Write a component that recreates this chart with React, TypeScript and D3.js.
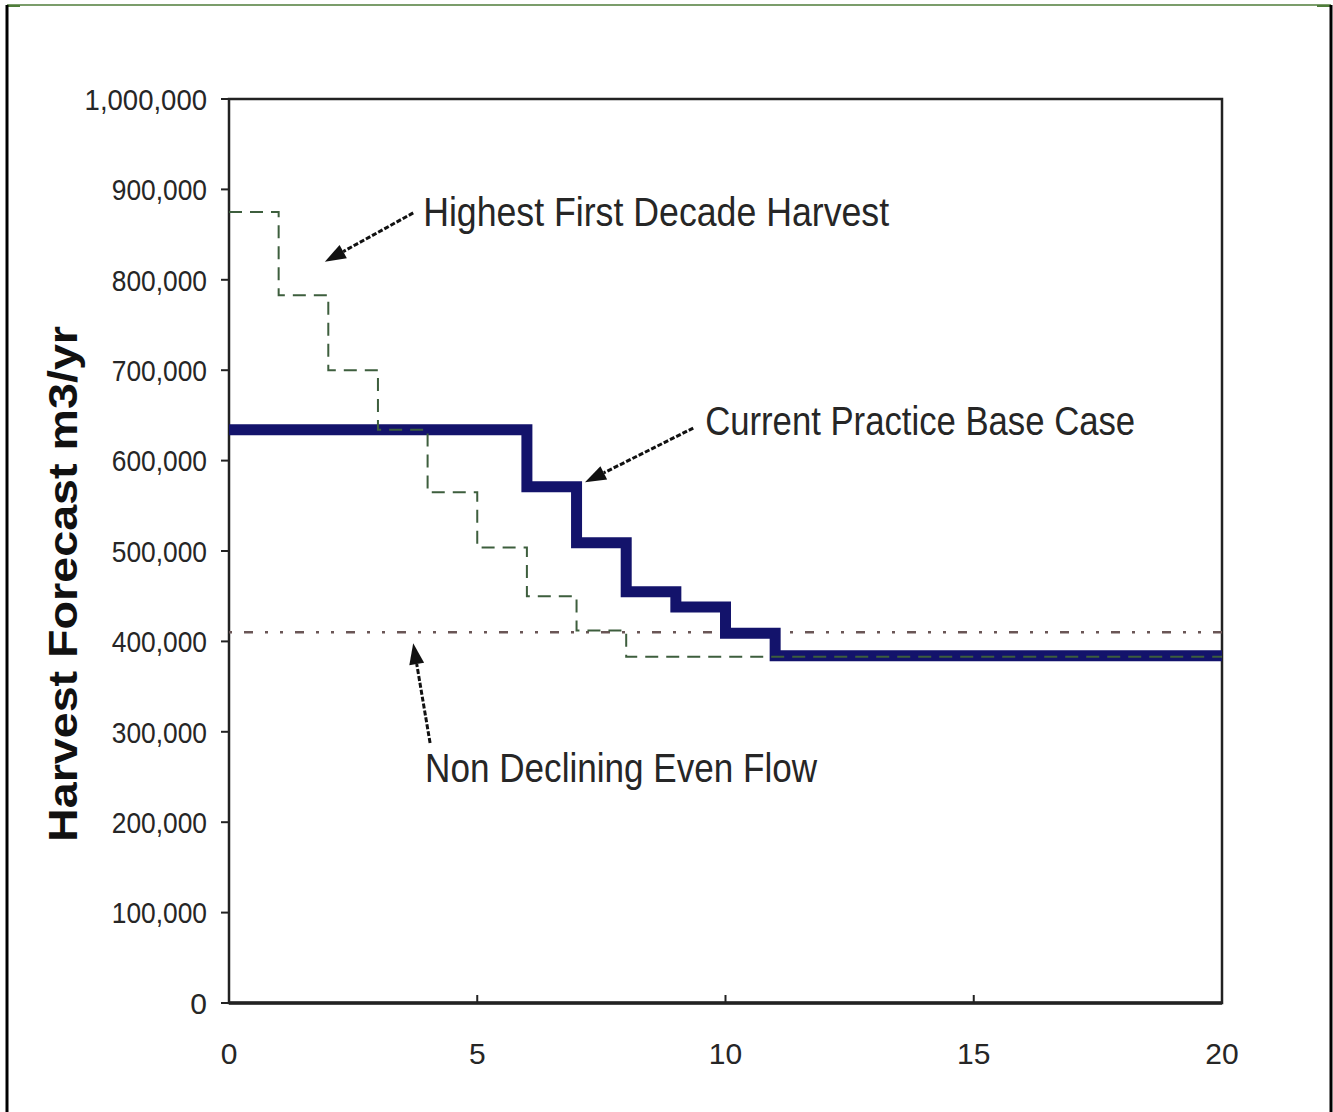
import React from "react";
import * as d3 from "d3";

// ---- data ----
const xTicks = [0, 5, 10, 15, 20];
const yTicks = [0, 100000, 200000, 300000, 400000, 500000, 600000, 700000, 800000, 900000, 1000000];

const highestX = [0, 1, 2, 3, 4, 5, 6, 7, 8, 20];
const highestY = [875000, 783000, 700000, 634000, 565000, 504000, 450000, 412000, 383000, 383000];

const baseX = [0, 6, 7, 8, 9, 10, 11, 20];
const baseY = [634000, 571000, 509000, 455000, 438000, 409000, 384000, 384000];

const evenFlowValue = 410000;

const annotationLabels = ["Highest First Decade Harvest", "Current Practice Base Case", "Non Declining Even Flow"];
// text anchor position in data units [x, y]
const annotationText: [number, number][] = [[3.91, 860000], [9.59, 628000], [3.95, 244500]];
// arrow tail / head in data units
const arrowTail: [number, number][] = [[3.71, 874000], [9.35, 636000], [4.05, 287600]];
const arrowHead: [number, number][] = [[1.93, 820000], [7.17, 576000], [3.71, 398000]];

const W = 1333;
const H = 1112;

export default function App() {
  const x = d3.scaleLinear().domain([0, 20]).range([229, 1222]);
  const y = d3.scaleLinear().domain([0, 1000000]).range([1003, 99]);

  const stepLine = d3
    .line<[number, number]>()
    .x((d) => x(d[0]))
    .y((d) => y(d[1]))
    .curve(d3.curveStepAfter);

  const highestPts = highestX.map((v, i) => [v, highestY[i]] as [number, number]);
  const basePts = baseX.map((v, i) => [v, baseY[i]] as [number, number]);

  const fmt = d3.format(",");
  const font = "'Liberation Sans', Arial, sans-serif";
  const textWidths = [466, 430, 392];

  const arrowPoly = (t: [number, number], h: [number, number]) => {
    const tx = x(t[0]), ty = y(t[1]);
    const hx = x(h[0]), hy = y(h[1]);
    const dx = hx - tx, dy = hy - ty;
    const len = Math.sqrt(dx * dx + dy * dy);
    const ux = dx / len, uy = dy / len;
    const L = 21, Wd = 7.5;
    const bx = hx - ux * L, by = hy - uy * L;
    return {
      line: { x1: tx, y1: ty, x2: bx, y2: by },
      pts: `${hx},${hy} ${bx - uy * Wd},${by + ux * Wd} ${bx + uy * Wd},${by - ux * Wd}`,
    };
  };

  return (
    <svg
      width={W}
      height={H}
      style={{ position: "absolute", left: 0, top: 0, background: "#fff" }}
      fontFamily={font}
    >
      <rect x={0} y={0} width={W} height={H} fill="#fff" />
      {/* outer frame */}
      <line x1={7} y1={5} x2={1331} y2={5} stroke="#4f7d3a" strokeWidth={1.5} />
      <line x1={7} y1={6} x2={20} y2={6} stroke="#4f7d3a" strokeWidth={2} />
      <line x1={1317} y1={6} x2={1331} y2={6} stroke="#4f7d3a" strokeWidth={2} />
      <line x1={7} y1={5} x2={7} y2={H} stroke="#000" strokeWidth={3} />
      <line x1={1331} y1={5} x2={1331} y2={H} stroke="#000" strokeWidth={3} />

      {/* plot box */}
      <rect x={x(0)} y={y(1000000)} width={x(20) - x(0)} height={y(0) - y(1000000)} fill="none" stroke="#222" strokeWidth={2.5} />
      <line x1={x(0)} y1={y(0)} x2={x(20)} y2={y(0)} stroke="#222" strokeWidth={3.5} />

      {/* y ticks */}
      {yTicks.map((t) => (
        <g key={"y" + t}>
          <line x1={x(0) - 8} x2={x(0)} y1={y(t)} y2={y(t)} stroke="#222" strokeWidth={2} />
          <text
            x={x(0) - 22}
            y={y(t)}
            dy="0.36em"
            textAnchor="end"
            fontSize={30}
            fill="#262626"
            textLength={fmt(t).length > 1 ? fmt(t).length * 13.6 : undefined}
            lengthAdjust="spacingAndGlyphs"
          >
            {fmt(t)}
          </text>
        </g>
      ))}

      {/* x ticks */}
      {xTicks.map((t) => (
        <g key={"x" + t}>
          <line x1={x(t)} x2={x(t)} y1={y(0)} y2={y(0) - 8} stroke="#222" strokeWidth={2} />
          <text x={x(t)} y={1064} textAnchor="middle" fontSize={30} fill="#262626">
            {t}
          </text>
        </g>
      ))}

      {/* y axis title */}
      <text
        transform={`translate(77,584) rotate(-90)`}
        textAnchor="middle"
        fontSize={41}
        fontWeight="bold"
        fill="#111"
        textLength={516}
        lengthAdjust="spacingAndGlyphs"
      >
        Harvest Forecast m3/yr
      </text>

      {/* even flow line */}
      <line
        x1={x(0)}
        x2={x(20)}
        y1={y(evenFlowValue)}
        y2={y(evenFlowValue)}
        stroke="#6a5656"
        strokeWidth={2.5}
        strokeDasharray="3,12,9,12,3,12"
      />

      {/* current practice base case */}
      <path d={stepLine(basePts) || ""} fill="none" stroke="#13136b" strokeWidth={11} strokeLinejoin="miter" />

      {/* highest first decade harvest */}
      <path d={stepLine(highestPts) || ""} fill="none" stroke="#3d5e3d" strokeWidth={2} strokeDasharray="13,8" />

      {/* annotations */}
      {annotationLabels.map((lab, i) => {
        const a = arrowPoly(arrowTail[i], arrowHead[i]);
        return (
          <g key={lab}>
            <line {...a.line} stroke="#111" strokeWidth={3} strokeDasharray="5,2" />
            <polygon points={a.pts} fill="#111" />
            <text
              x={x(annotationText[i][0])}
              y={y(annotationText[i][1])}
              fontSize={40}
              fill="#262626"
              textLength={textWidths[i]}
              lengthAdjust="spacingAndGlyphs"
            >
              {lab}
            </text>
          </g>
        );
      })}
    </svg>
  );
}
